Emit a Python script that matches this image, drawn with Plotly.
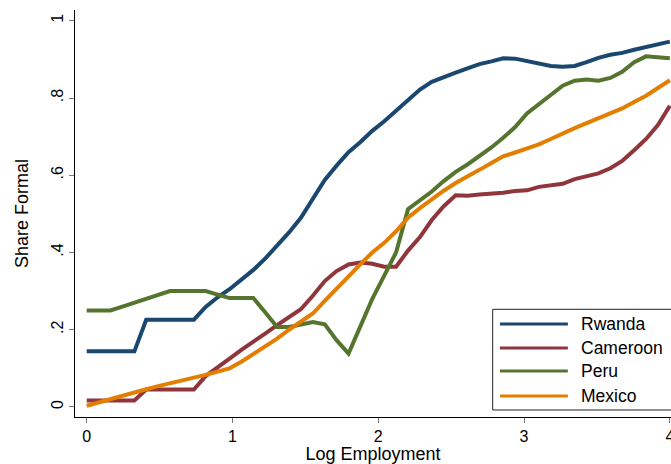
import plotly.graph_objects as go

log_emp = [0.0, 0.082, 0.163, 0.245, 0.327, 0.408, 0.49, 0.571, 0.653, 0.735,
           0.816, 0.898, 0.98, 1.061, 1.143, 1.224, 1.306, 1.388, 1.469, 1.551,
           1.633, 1.714, 1.796, 1.878, 1.959, 2.041, 2.122, 2.204, 2.286, 2.367,
           2.449, 2.531, 2.612, 2.694, 2.776, 2.857, 2.939, 3.02, 3.102, 3.184,
           3.265, 3.347, 3.429, 3.51, 3.592, 3.673, 3.755, 3.837, 3.918, 4.0]

rwanda = [0.144, 0.144, 0.144, 0.144, 0.144, 0.226, 0.226, 0.226, 0.226, 0.226,
          0.259, 0.284, 0.305, 0.330, 0.355, 0.384, 0.418, 0.452, 0.490, 0.537,
          0.588, 0.625, 0.660, 0.686, 0.715, 0.740, 0.768, 0.796, 0.822, 0.842,
          0.855, 0.866, 0.877, 0.888, 0.895, 0.903, 0.902, 0.895, 0.888, 0.883,
          0.881, 0.883, 0.893, 0.904, 0.912, 0.917, 0.925, 0.932, 0.937, 0.946]

cameroon = [0.017, 0.017, 0.017, 0.017, 0.017, 0.045, 0.045, 0.045, 0.045, 0.045,
            0.080, 0.104, 0.125, 0.148, 0.168, 0.190, 0.212, 0.232, 0.253, 0.288,
            0.326, 0.352, 0.369, 0.374, 0.371, 0.363, 0.363, 0.405, 0.440, 0.484,
            0.520, 0.548, 0.547, 0.550, 0.552, 0.555, 0.559, 0.561, 0.570, 0.574,
            0.578, 0.590, 0.597, 0.605, 0.618, 0.637, 0.665, 0.694, 0.730, 0.780]

peru = [0.250, 0.250, 0.250, 0.260, 0.270, 0.280, 0.290, 0.300, 0.300, 0.300,
        0.300, 0.291, 0.282, 0.282, 0.282, 0.245, 0.207, 0.207, 0.213, 0.220,
        0.214, 0.173, 0.138, 0.207, 0.280, 0.340, 0.400, 0.512, 0.535, 0.558,
        0.585, 0.609, 0.628, 0.650, 0.672, 0.697, 0.725, 0.760, 0.785, 0.810,
        0.832, 0.845, 0.848, 0.845, 0.852, 0.868, 0.893, 0.908, 0.906, 0.903]

mexico = [0.003, 0.012, 0.021, 0.030, 0.038, 0.046, 0.054, 0.062, 0.069, 0.076,
          0.083, 0.091, 0.100, 0.117, 0.137, 0.155, 0.177, 0.200, 0.220, 0.242,
          0.275, 0.307, 0.338, 0.370, 0.400, 0.425, 0.455, 0.490, 0.515, 0.538,
          0.560, 0.580, 0.596, 0.614, 0.632, 0.649, 0.659, 0.670, 0.680, 0.694,
          0.709, 0.722, 0.735, 0.747, 0.759, 0.773, 0.790, 0.806, 0.826, 0.846]

countries = ["Rwanda", "Cameroon", "Peru", "Mexico"]
colors = ["#1a476f", "#90353b", "#55752f", "#e37e00"]
series = [rwanda, cameroon, peru, mexico]

y_ticks = [0, 0.2, 0.4, 0.6, 0.8, 1]
y_tick_labels = ["0", ".2", ".4", ".6", ".8", "1"]
x_ticks = [0, 1, 2, 3, 4]

FONT = "Liberation Sans, Arial, sans-serif"

fig = go.Figure()
for name, vals, col in zip(countries, series, colors):
    fig.add_trace(go.Scatter(x=log_emp, y=vals, mode="lines", name=name,
                             line=dict(color=col, width=4), showlegend=False))

# legend drawn by hand (Stata style box, long line samples)
leg_rows = [0.2285, 0.1695, 0.113, 0.0516]
fig.add_shape(type="rect", xref="paper", yref="paper", x0=0.7008, x1=1.02,
              y0=0.0172, y1=0.2646, line=dict(color="#222222", width=1),
              fillcolor="white", layer="above")
for name, col, yy in zip(countries, colors, leg_rows):
    fig.add_shape(type="line", xref="paper", yref="paper", x0=0.713, x1=0.827,
                  y0=yy, y1=yy, line=dict(color=col, width=3), layer="above")
    fig.add_annotation(text=name, xref="paper", yref="paper", x=0.8456, y=yy,
                       xanchor="left", yanchor="middle", showarrow=False,
                       font=dict(size=17.5, color="black", family=FONT))

fig.update_xaxes(range=[-0.0803, 4.008], tickvals=x_ticks, showline=True,
                 linecolor="black", linewidth=1, ticks="outside", ticklen=5,
                 tickcolor="#777777", showgrid=False, zeroline=False,
                 ticklabeloverflow="allow", automargin=False,
                 tickfont=dict(size=16, color="black"),
                 title=dict(text="Log Employment", font=dict(size=18), standoff=3))
fig.update_yaxes(range=[-0.026, 1.028], tickvals=y_ticks, ticktext=y_tick_labels,
                 tickangle=-90, showline=True, linecolor="black", linewidth=1,
                 ticks="outside", ticklen=5, tickcolor="#777777", showgrid=False,
                 zeroline=False, tickfont=dict(size=16, color="black"),
                 ticklabelstandoff=0, automargin=False,
                 title=dict(text="Share Formal", font=dict(size=18), standoff=15))

fig.update_layout(width=671, height=464, margin=dict(l=75, r=0, t=10, b=47),
                  plot_bgcolor="white", paper_bgcolor="white",
                  font=dict(family=FONT, color="black"))

fig.write_html("out.html", config={"displayModeBar": False},
               post_script="document.body.style.margin='0';")
